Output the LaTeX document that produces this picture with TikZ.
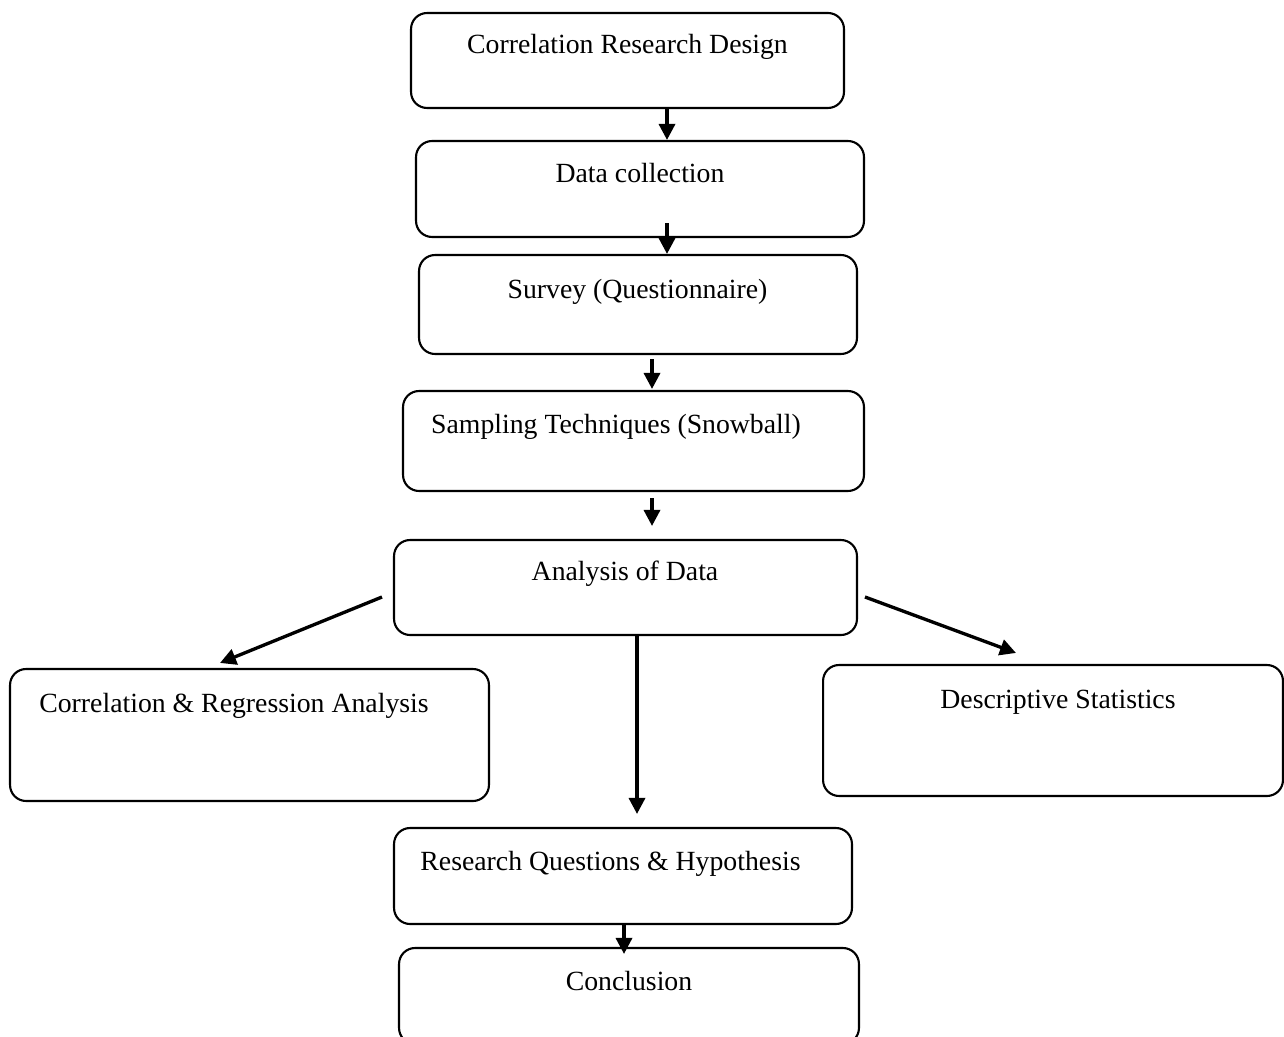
\documentclass[tikz,border=0pt]{standalone}
\usepackage{fontspec}
\setmainfont{Liberation Serif}
\usetikzlibrary{arrows.meta,positioning,calc}

\begin{document}
\begin{tikzpicture}[x=0.02cm, y=-0.02cm,
    stepbox/.style={draw, line width=1.2pt, rounded corners=0.32cm, inner sep=0pt},
    lbl/.style={anchor=base, inner sep=0pt, font=\fontsize{15.8}{19}\selectfont},
    flow/.style={line width=1.9pt, -{Triangle[length=0.32cm,width=0.32cm]}}]
    \useasboundingbox (0,0) rectangle (1284,1037);

    % Main column of boxes
    \node[stepbox, minimum width=8.66cm, minimum height=1.9cm] (design) at (627.5,60.5) {};
    \node[lbl] (designtxt) at (627.5,54) {Correlation Research Design};

    \node[stepbox, minimum width=8.96cm, minimum height=1.92cm] (collect) at (640,189) {};
    \node[lbl] (collecttxt) at (640,183) {Data collection};

    \node[stepbox, minimum width=8.76cm, minimum height=1.98cm] (survey) at (638,304.5) {};
    \node[lbl] (surveytxt) at (637.5,298) {Survey (Questionnaire)};

    \node[stepbox, minimum width=9.22cm, minimum height=2cm] (sampling) at (633.5,441) {};
    \node[lbl] (samplingtxt) at (616,433) {Sampling Techniques (Snowball)};

    \node[stepbox, minimum width=9.26cm, minimum height=1.9cm] (analysis) at (625.5,587.5) {};
    \node[lbl] (analysistxt) at (625,580) {Analysis of Data};

    % Branches
    \node[stepbox, minimum width=9.58cm, minimum height=2.64cm] (corrreg) at (249.5,735) {};
    \node[lbl] (corrregtxt) at (234,712) {Correlation \& Regression Analysis};

    \node[stepbox, minimum width=9.2cm, minimum height=2.62cm] (descr) at (1053,730.5) {};
    \node[lbl] (descrtxt) at (1058,708) {Descriptive Statistics};

    % Lower column
    \node[stepbox, minimum width=9.16cm, minimum height=1.92cm] (research) at (623,876) {};
    \node[lbl] (researchtxt) at (610.5,870) {Research Questions \& Hypothesis};

    \node[stepbox, minimum width=9.2cm, minimum height=1.92cm] (conclusion) at (629,996) {};
    \node[lbl] (conclusiontxt) at (629,990) {Conclusion};

    % Arrows
    \draw[flow] (design.south -| 667,0) -- (collect.north -| 667,0);
    \draw[flow] ($(collect.south -| 667,0)+(0,-15)$) -- (survey.north -| 667,0);
    \draw[flow] ($(survey.south -| 652,0)+(0,4)$) -- ($(sampling.north -| 652,0)+(0,-1)$);
    \draw[flow] ($(sampling.south -| 652,0)+(0,6)$) -- ($(analysis.north -| 652,0)+(0,-13)$);
    \draw[flow] ($(analysis.west)+(-11,9.5)$) -- ($(corrreg.north)+(-29.5,-5)$);
    \draw[flow] ($(analysis.east)+(7,9.5)$) -- ($(descr.north)+(-37,-11)$);
    \draw[flow] (analysis.south -| 637,0) -- ($(research.north -| 637,0)+(0,-13)$);
    \draw[flow] (research.south -| 624,0) -- ($(conclusion.north -| 624,0)+(0,7)$);
\end{tikzpicture}
\end{document}
